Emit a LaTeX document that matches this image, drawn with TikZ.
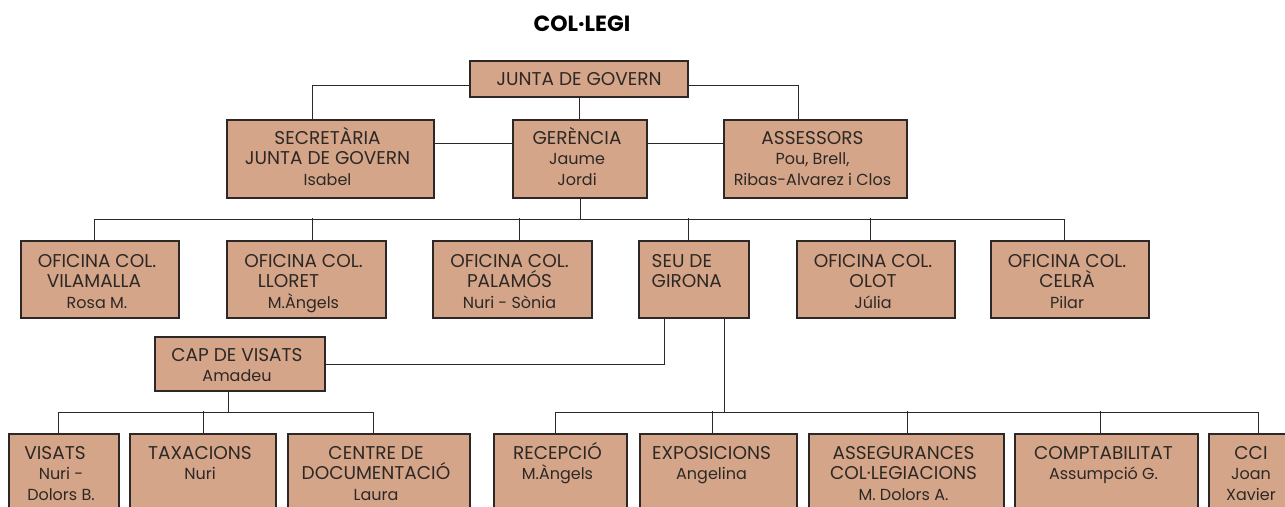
\documentclass[tikz,border=0pt]{standalone}
\usepackage{fontspec}
\setmainfont{Poppins}
\usetikzlibrary{positioning}
\definecolor{boxtan}{RGB}{212,165,136}
\definecolor{ink}{RGB}{45,40,38}
\newcommand\who[1]{{\fontsize{16}{20.5}\selectfont #1}}
\newcommand\hd{\vphantom{À}}
\tikzset{
  unit/.style={draw=ink, fill=boxtan, line width=1.1pt, inner sep=0pt},
  txt/.style={anchor=north, align=center, text=ink, inner sep=2pt, xshift=-3pt, yshift=-5.5pt,
    font=\fontsize{18.5}{20.5}\selectfont},
  link/.style={draw=ink, line width=1pt}
}

\begin{document}
\begin{tikzpicture}[x=1pt, y=-1pt]
	\clip (0,0) rectangle (1285,506);
	\node[font=\bfseries\fontsize{22}{24}\selectfont] (title) at (582,24) {COL·LEGI};
	%% top
	\node[unit, minimum width=218, minimum height=36, label={[txt, xshift=3pt]north:{\hd JUNTA DE GOVERN}}] (jg) at (579,79) {};
	\node[unit, minimum width=207, minimum height=78, label={[txt]north:{\hd SECRETÀRIA\\JUNTA DE GOVERN\\\who{Isabel}}}] (sec) at (330.5,159) {};
	\node[unit, minimum width=134, minimum height=78, label={[txt]north:{\hd GERÈNCIA\\\who{Jaume}\\\who{Jordi}}}] (ger) at (580,159) {};
	\node[unit, minimum width=183, minimum height=78, label={[txt]north:{\hd ASSESSORS\\\who{Pou, Brell,}\\\who{Ribas-Alvarez i Clos}}}] (ass) at (815.5,159) {};
	%% offices
	\node[unit, minimum width=158, minimum height=77, label={[txt, yshift=-2pt]north:{\hd OFICINA COL.\\\hspace*{-6pt}VILAMALLA\\\who{Rosa M.}}}] (vil) at (100,279.5) {};
	\node[unit, minimum width=159, minimum height=77, label={[txt, yshift=-2pt]north:{\hd OFICINA COL.\\\hspace*{-30pt}LLORET\\\who{M.Àngels}}}] (llo) at (306.5,279.5) {};
	\node[unit, minimum width=159, minimum height=77, label={[txt, yshift=-2pt]north:{\hd OFICINA COL.\\PALAMÓS\\\who{Nuri - Sònia}}}] (pal) at (512.5,279.5) {};
	\node[unit, minimum width=110, minimum height=77, label={[txt, yshift=-2pt, anchor=north west, align=left, xshift=14pt]north west:{\hd SEU DE\\GIRONA}}] (seu) at (694,279.5) {};
	\node[unit, minimum width=158, minimum height=77, label={[txt, yshift=-2pt]north:{\hd OFICINA COL.\\OLOT\\\who{Júlia}}}] (olo) at (876,279.5) {};
	\node[unit, minimum width=158, minimum height=77, label={[txt, yshift=-2pt]north:{\hd OFICINA COL.\\CELRÀ\\\who{Pilar}}}] (cel) at (1070,279.5) {};
	\node[unit, minimum width=170, minimum height=54, label={[txt]north:{\hd CAP DE VISATS\\\who{Amadeu}}}] (cap) at (240,364) {};
	%% departments
	\node[unit, minimum width=110, minimum height=90, label={[txt, yshift=-1pt]north:{\hd\hspace*{-12pt}VISATS\\\who{Nuri -}\\\who{Dolors B.}}}] (vis) at (64,479) {};
	\node[unit, minimum width=146, minimum height=90, label={[txt, yshift=-1pt]north:{\hd TAXACIONS\\\who{Nuri}}}] (tax) at (203,479) {};
	\node[unit, minimum width=182, minimum height=90, label={[txt, yshift=-1pt]north:{\hd CENTRE DE\\DOCUMENTACIÓ\\\who{Laura}}}] (cen) at (379,479) {};
	\node[unit, minimum width=133, minimum height=90, label={[txt, yshift=-1pt]north:{\hd RECEPCIÓ\\\who{M.Àngels}}}] (rec) at (560.5,479) {};
	\node[unit, minimum width=157, minimum height=90, label={[txt, yshift=-1pt, xshift=-4pt]north:{\hd EXPOSICIONS\\\who{Angelina}}}] (exp) at (718.5,479) {};
	\node[unit, minimum width=195, minimum height=90, label={[txt, yshift=-1pt]north:{\hd ASSEGURANCES\\COL·LEGIACIONS\\\who{M. Dolors A.}}}] (ase) at (906.5,479) {};
	\node[unit, minimum width=183, minimum height=90, label={[txt, yshift=-1pt]north:{\hd COMPTABILITAT\\\who{Assumpció G.}}}] (com) at (1106.5,479) {};
	\node[unit, minimum width=96, minimum height=90, label={[txt, yshift=-1pt, xshift=-3pt]north:{\hd CCI\\\who{Joan}\\\who{Xavier}}}] (cci) at (1257,479) {};
	%% links
	\path[link] (jg.south) -- (jg.south |- ger.north);
	\path[link] ([yshift=-6pt]jg.west) -| ([xshift=-18pt]sec.north);
	\path[link] ([yshift=-6pt]jg.east) -| ([xshift=-17pt]ass.north);
	\path[link] ([yshift=16pt]sec.east) -- ([yshift=16pt]ger.west);
	\path[link] ([yshift=16pt]ger.east) -- ([yshift=16pt]ass.west);
	\path[link] (ger.south) -- ++(0,21) coordinate (b1);
	\path[link] ([xshift=-6pt]vil.north) |- (b1);
	\path[link] ([xshift=-6pt]cel.north) |- (b1);
	\foreach \n/\dx in {llo/5.5, pal/6.5, seu/-6, olo/-6}
		\path[link] ([xshift=\dx pt]\n.north) -- ++(0,-22);
	\path[link] ([xshift=-30pt]seu.south) |- (cap.east);
	\path[link] ([xshift=30pt]seu.south) -- ++(0,94) coordinate (b3);
	\path[link] ([xshift=-12pt]cap.south) -- ++(0,21) coordinate (b2);
	\path[link] ([xshift=-6pt]vis.north) |- (b2);
	\path[link] ([xshift=-6pt]cen.north) |- (b2);
	\path[link] (tax.north) -- ++(0,-22);
	\path[link] ([xshift=-5pt]rec.north) |- (b3);
	\path[link] ([xshift=1pt]cci.north) |- (b3);
	\foreach \n/\dx in {exp/-6.5, ase/0.5, com/-6.5}
		\path[link] ([xshift=\dx pt]\n.north) -- ++(0,-22);
\end{tikzpicture}
\end{document}
